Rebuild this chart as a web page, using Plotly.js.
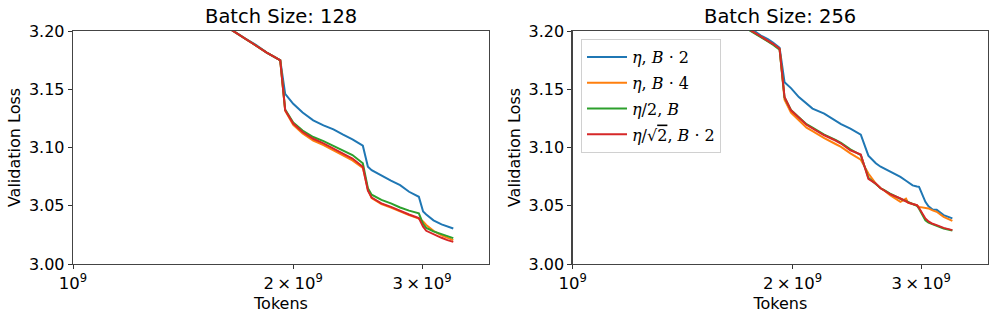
<!DOCTYPE html>
<html>
<head>
<meta charset="utf-8">
<script src="https://cdn.plot.ly/plotly-3.0.1.min.js"></script>
<style>
  html, body { margin: 0; padding: 0; background: #fff; }
  #chart { width: 996px; height: 318px; }
</style>
</head>
<body>
<div id="chart"></div>
<script>
// ---------- data ----------
const seriesNames = [
  "<i>η</i>, <i>B</i> · 2",
  "<i>η</i>, <i>B</i> · 4",
  "<i>η</i>/2, <i>B</i>",
  "<i>η</i>/√<span style=\"text-decoration:overline\">2</span>, <i>B</i> · 2"
];
const seriesColors = ["#1f77b4", "#ff7f0e", "#2ca02c", "#d62728"];
const panelTitles = ["Batch Size: 128", "Batch Size: 256"];
const xTickVals = [1e9, 2e9, 3e9];
const xTickText = ["10<sup>9</sup>", "2\u2009×\u200910<sup>9</sup>", "3\u2009×\u200910<sup>9</sup>"];
const yTickVals = [3.00, 3.05, 3.10, 3.15, 3.20];
const yTickText = ["3.00", "3.05", "3.10", "3.15", "3.20"];

// Batch size 128
const tokens128 = [1.60e9, 1.66e9, 1.72e9, 1.78e9, 1.84e9, 1.90e9, 1.92e9, 1.95e9, 2.00e9, 2.06e9, 2.13e9, 2.20e9, 2.27e9, 2.34e9, 2.41e9, 2.49e9, 2.53e9, 2.56e9, 2.64e9, 2.72e9, 2.80e9, 2.88e9, 2.97e9, 3.01e9, 3.04e9, 3.11e9, 3.19e9, 3.25e9, 3.31e9];
const loss128_eta_B2 = [3.206, 3.1995, 3.1935, 3.188, 3.1815, 3.1765, 3.175, 3.146, 3.1375, 3.130, 3.1233, 3.119, 3.1155, 3.111, 3.107, 3.1015, 3.0835, 3.0805, 3.0757, 3.0715, 3.0677, 3.0620, 3.0577, 3.0450, 3.0425, 3.0375, 3.0340, 3.0320, 3.0305];
const loss128_eta_B4 = [3.206, 3.1995, 3.193, 3.1875, 3.1815, 3.1765, 3.1748, 3.1315, 3.1195, 3.112, 3.106, 3.102, 3.0975, 3.093, 3.089, 3.0825, 3.0640, 3.0565, 3.0515, 3.0485, 3.045, 3.042, 3.039, 3.0365, 3.0335, 3.0285, 3.0245, 3.0222, 3.0205];
const loss128_eta2_B = [3.206, 3.1995, 3.193, 3.1875, 3.1815, 3.1765, 3.1748, 3.1325, 3.1215, 3.1145, 3.109, 3.1055, 3.1015, 3.097, 3.0935, 3.0865, 3.0650, 3.0595, 3.0550, 3.0520, 3.0485, 3.0458, 3.0435, 3.0345, 3.0310, 3.0280, 3.0255, 3.0235, 3.0222];
const loss128_etas2_B2 = [3.206, 3.1995, 3.193, 3.1875, 3.1815, 3.1765, 3.1748, 3.1320, 3.1205, 3.1133, 3.1075, 3.1035, 3.0990, 3.0945, 3.0905, 3.0835, 3.0630, 3.0570, 3.0520, 3.0490, 3.0455, 3.0425, 3.0395, 3.0320, 3.0285, 3.0255, 3.0225, 3.0205, 3.0190];

// Batch size 256
const tokens256 = [1.70e9, 1.76e9, 1.81e9, 1.85e9, 1.88e9, 1.92e9, 1.95e9, 1.99e9, 2.04e9, 2.09e9, 2.13e9, 2.21e9, 2.29e9, 2.33e9, 2.40e9, 2.48e9, 2.54e9, 2.60e9, 2.64e9, 2.67e9, 2.72e9, 2.81e9, 2.86e9, 2.88e9, 2.92e9, 2.96e9, 2.98e9, 3.04e9, 3.07e9, 3.11e9, 3.15e9, 3.22e9, 3.31e9];
const loss256_eta_B2 = [3.207, 3.2015, 3.196, 3.193, 3.190, 3.1855, 3.1561, 3.151, 3.1433, 3.138, 3.1334, 3.1291, 3.1233, 3.120, 3.1162, 3.1110, 3.093, 3.0865, 3.0835, 3.082, 3.0790, 3.0748, 3.0715, 3.0700, 3.0675, 3.0665, 3.0662, 3.0534, 3.0495, 3.0468, 3.0465, 3.0420, 3.0392];
const loss256_eta_B4 = [3.2055, 3.2000, 3.1950, 3.1915, 3.1888, 3.1845, 3.1410, 3.1300, 3.1230, 3.1170, 3.1140, 3.1080, 3.1030, 3.1005, 3.0950, 3.0895, 3.0777, 3.0690, 3.0650, 3.0632, 3.0591, 3.0534, 3.0562, 3.0525, 3.0515, 3.0505, 3.0490, 3.0477, 3.0477, 3.0460, 3.0448, 3.0405, 3.0370];
const loss256_eta2_B = [3.2050, 3.1995, 3.1945, 3.1910, 3.1882, 3.1840, 3.1430, 3.1322, 3.1260, 3.1200, 3.1170, 3.1110, 3.1065, 3.1040, 3.0985, 3.0935, 3.0740, 3.0685, 3.0650, 3.0635, 3.0605, 3.0560, 3.0540, 3.0530, 3.0515, 3.0500, 3.0475, 3.0375, 3.0355, 3.0340, 3.0328, 3.0305, 3.0287];
const loss256_etas2_B2 = [3.2055, 3.2000, 3.1950, 3.1915, 3.1890, 3.1847, 3.1433, 3.1319, 3.1255, 3.1195, 3.1165, 3.1105, 3.1060, 3.1034, 3.0976, 3.0940, 3.0730, 3.0690, 3.0650, 3.0630, 3.0600, 3.0562, 3.0535, 3.0528, 3.0515, 3.0505, 3.0480, 3.0391, 3.0365, 3.0345, 3.0334, 3.0310, 3.0291];

// ---------- build traces ----------
const panels = [
  { x: tokens128, ys: [loss128_eta_B2, loss128_eta_B4, loss128_eta2_B, loss128_etas2_B2], xa: "x", ya: "y", legend: false },
  { x: tokens256, ys: [loss256_eta_B2, loss256_eta_B4, loss256_eta2_B, loss256_etas2_B2], xa: "x2", ya: "y2", legend: true }
];
const traces = [];
panels.forEach(p => {
  p.ys.forEach((ys, i) => {
    traces.push({
      type: "scatter", mode: "lines",
      x: p.x, y: ys,
      xaxis: p.xa, yaxis: p.ya,
      name: seriesNames[i],
      legendgroup: "g" + i,
      showlegend: p.legend,
      line: { color: seriesColors[i], width: 2 }
    });
  });
});

const font = { family: "DejaVu Sans, sans-serif", size: 16, color: "#000" };
function xAxis(domain, anchor) {
  return {
    type: "log", range: [9, 9.5686], domain: domain, anchor: anchor,
    tickmode: "array", tickvals: xTickVals, ticktext: xTickText,
    ticks: "outside", ticklen: 4, tickwidth: 1, tickcolor: "#333",
    showline: true, linecolor: "#444", linewidth: 1.3, mirror: true,
    showgrid: false, zeroline: false,
    tickfont: { family: "DejaVu Sans, sans-serif", size: 16.5, color: "#000" },
    title: { text: "Tokens", font: font, standoff: 5 }
  };
}
function yAxis(anchor) {
  return {
    range: [3.0, 3.2], anchor: anchor,
    tickmode: "array", tickvals: yTickVals, ticktext: yTickText,
    ticks: "outside", ticklen: 4, tickwidth: 1, tickcolor: "#333",
    showline: true, linecolor: "#444", linewidth: 1.3, mirror: true,
    showgrid: false, zeroline: false,
    tickfont: font,
    title: { text: "Validation Loss", font: font, standoff: 4 }
  };
}

const layout = {
  width: 996, height: 318,
  margin: { l: 73, r: 8, t: 31, b: 54 },
  paper_bgcolor: "#fff", plot_bgcolor: "#fff",
  font: font,
  xaxis: xAxis([0, 0.4546], "y"),
  yaxis: yAxis("x"),
  xaxis2: xAxis([0.5461, 1], "y2"),
  yaxis2: yAxis("x2"),
  showlegend: true,
  legend: {
    x: 0.5552, y: 0.9657, xanchor: "left", yanchor: "top",
    bgcolor: "rgba(255,255,255,0.8)", bordercolor: "#d0d0d0", borderwidth: 1,
    font: { family: "DejaVu Serif, serif", size: 16, color: "#000" },
    traceorder: "grouped", tracegroupgap: 2, itemwidth: 40
  },
  annotations: [
    { text: panelTitles[0], xref: "paper", yref: "paper", x: 0.2273, y: 1, yshift: 15, xanchor: "center", yanchor: "middle", showarrow: false, font: { family: "DejaVu Sans, sans-serif", size: 19.5, color: "#000" } },
    { text: panelTitles[1], xref: "paper", yref: "paper", x: 0.7730, y: 1, yshift: 15, xanchor: "center", yanchor: "middle", showarrow: false, font: { family: "DejaVu Sans, sans-serif", size: 19.5, color: "#000" } }
  ]
};

Plotly.newPlot("chart", traces, layout, { staticPlot: true, displayModeBar: false });
</script>
</body>
</html>
